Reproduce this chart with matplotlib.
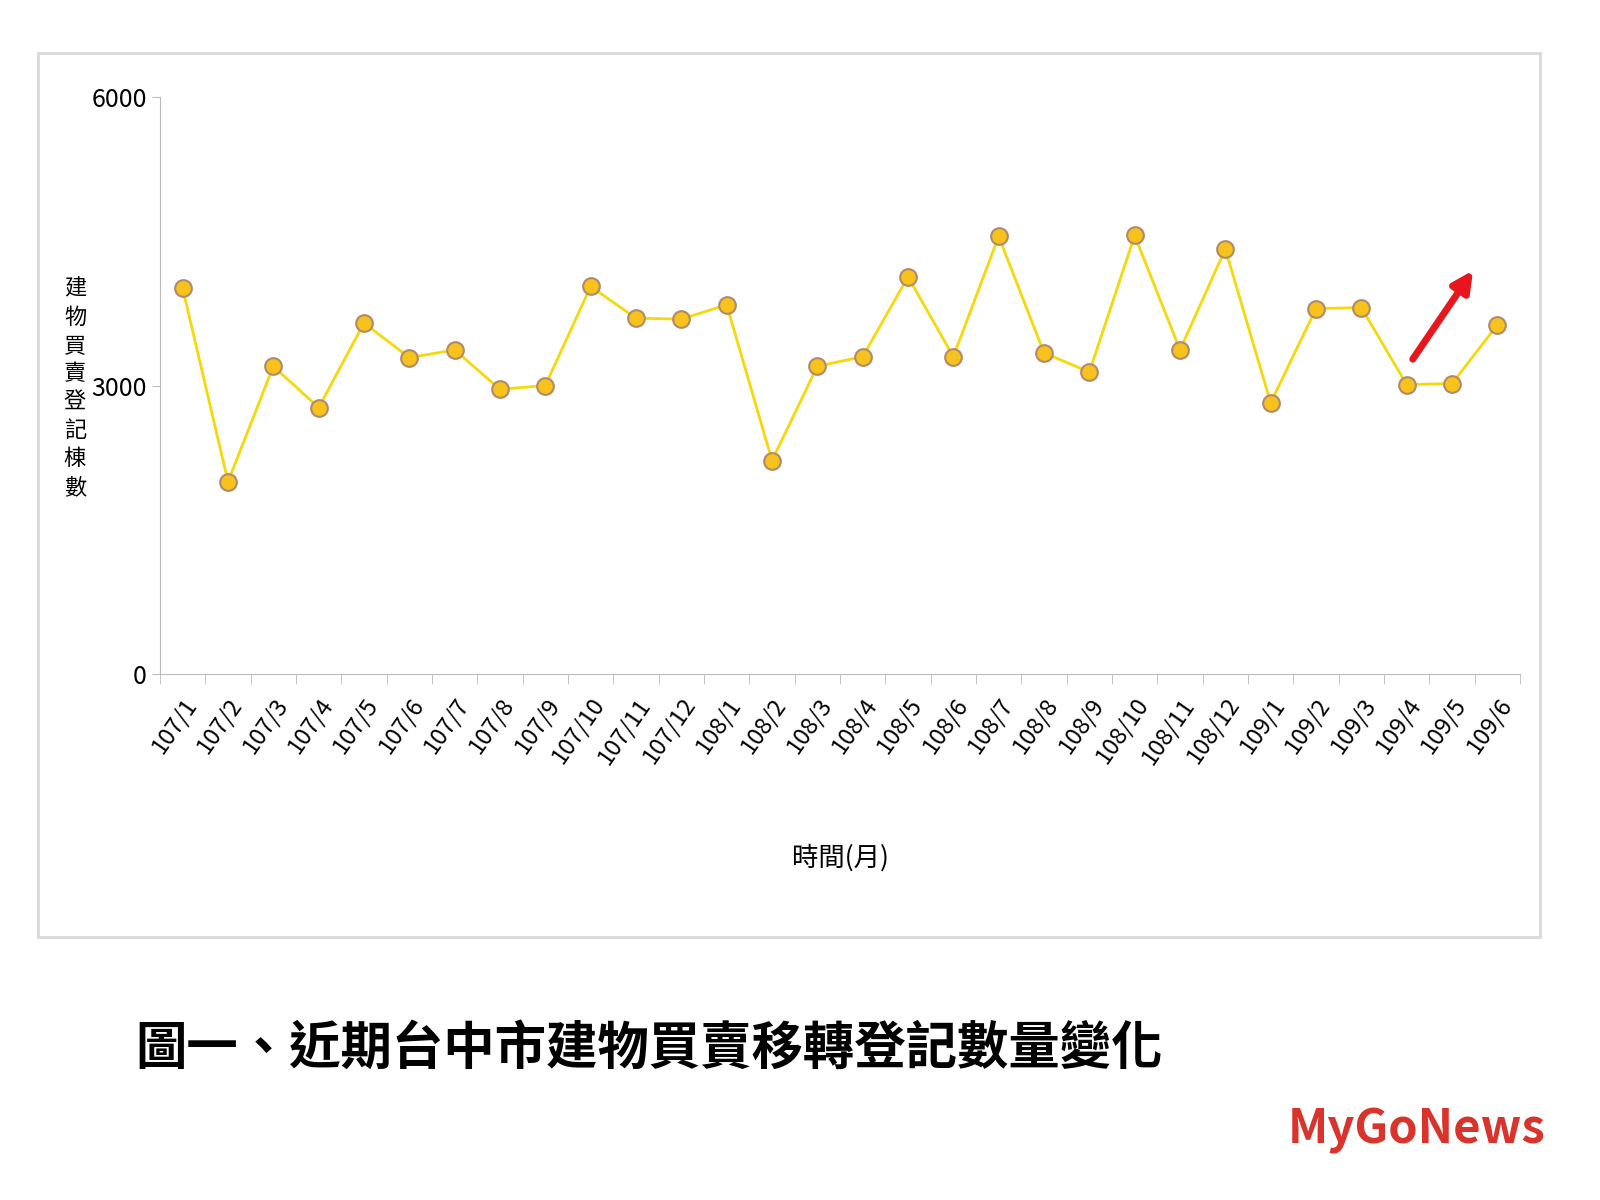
import matplotlib
matplotlib.use("Agg")
import matplotlib.pyplot as plt
from matplotlib.patches import Rectangle

plt.rcParams['font.family'] = ['Noto Sans CJK TC', 'DejaVu Sans']

months = ["107/1","107/2","107/3","107/4","107/5","107/6","107/7","107/8","107/9","107/10","107/11","107/12",
          "108/1","108/2","108/3","108/4","108/5","108/6","108/7","108/8","108/9","108/10","108/11","108/12",
          "109/1","109/2","109/3","109/4","109/5","109/6"]
values = [4010,2000,3200,2770,3650,3290,3370,2960,3000,4030,3700,3690,
          3840,2220,3200,3300,4130,3300,4550,3340,3140,4560,3370,4420,
          2820,3800,3810,3010,3020,3630]
yticks = [0, 3000, 6000]

fig = plt.figure(figsize=(16, 12), dpi=100)
fig.patches.append(Rectangle((38/1600, 1-937/1200), 1502/1600, 884/1200, transform=fig.transFigure,
                             fill=False, edgecolor='#d9d9d9', lw=2))
ax = fig.add_axes([160/1600, 1-674/1200, 1360/1600, 577/1200])
x = list(range(len(months)))
ax.plot(x, values, color='#f5d90a', lw=2, marker='o', ms=12, mfc='#f7c21b', mec='#b08a6a', mew=1.5, zorder=3)
ax.set_xlim(-0.5, len(months)-0.5)
ax.set_ylim(0, 6000)
ax.set_yticks(yticks)
ax.set_yticklabels([str(v) for v in yticks], fontsize=18)
ax.set_xticks(x)
ax.set_xticklabels(months, rotation=55, ha='right', rotation_mode='anchor', fontsize=17)
ax.tick_params(axis='x', length=0, pad=14)
ax.set_xticks([i - 0.5 for i in range(len(months)+1)], minor=True)
ax.tick_params(axis='x', which='minor', length=7, color='#bbbbbb')
ax.tick_params(axis='y', length=6, color='#bbbbbb')
for s in ['top', 'right']:
    ax.spines[s].set_visible(False)
for s in ['left', 'bottom']:
    ax.spines[s].set_color('#bbbbbb')
ax.set_xlabel('時間(月)', fontsize=19, labelpad=55)
fig.text(75/1600, 1-388/1200, '建\n物\n買\n賣\n登\n記\n棟\n數', fontsize=16, ha='center', va='center', linespacing=1.3)
ax.annotate('', xy=(28.5, 4220), xytext=(27.1, 3250),
            arrowprops=dict(arrowstyle='-|>,head_width=0.6,head_length=1.2', color='#e8161c', lw=5))
fig.text(135/1600, 1-1048/1200, '圖一、近期台中市建物買賣移轉登記數量變化', fontsize=37, fontweight='bold', va='center')
fig.text(1545/1600, 1-1130/1200, 'MyGoNews', fontsize=34, fontweight='bold', color='#d9342b', ha='right', va='center')
fig.savefig('out.png', dpi=100)
